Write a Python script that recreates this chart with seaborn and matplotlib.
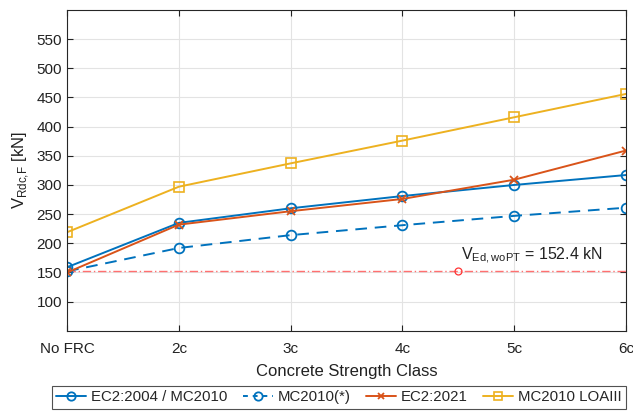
import numpy as np
import pandas as pd
import matplotlib
matplotlib.use("Agg")
import matplotlib.pyplot as plt
from matplotlib.lines import Line2D
import seaborn as sns

categories = ["No FRC", "2c", "3c", "4c", "5c", "6c"]
ec2_2004 = [159, 235, 260, 281, 300, 317]
mc2010_star = [152, 192, 214, 231, 247, 261]
ec2_2021 = [150, 232, 255, 276, 309, 359]
mc2010_loa3 = [219, 297, 337, 376, 416, 456]
v_ed = 152.4
series_names = ["EC2:2004 / MC2010", "MC2010(*)", "EC2:2021", "MC2010 LOAIII"]

sns.set_theme(style="whitegrid")
plt.rcParams['font.family'] = ['Liberation Sans', 'DejaVu Sans']
plt.rcParams['mathtext.fontset'] = 'custom'
plt.rcParams['mathtext.rm'] = 'Liberation Sans'

fig = plt.figure(figsize=(6.33, 4.12), dpi=100)
ax = fig.add_axes([0.106, 0.197, 0.883, 0.779])

x = np.arange(len(categories))
styles = [
    dict(color="#0072BD", marker="o", ls="-", mfc="none", ms=7, mew=1.3),
    dict(color="#0072BD", marker="o", ls=(0, (6, 4)), mfc="none", ms=7, mew=1.3),
    dict(color="#D95319", marker="x", ls="-", mfc="#D95319", ms=6, mew=1.3),
    dict(color="#EDB120", marker="s", ls="-", mfc="none", ms=6.5, mew=1.2),
]
handles = []
for name, vals, st in zip(series_names, [ec2_2004, mc2010_star, ec2_2021, mc2010_loa3], styles):
    df = pd.DataFrame({"x": x, "y": vals})
    sns.lineplot(data=df, x="x", y="y", ax=ax, color=st["color"],
                 linestyle=st["ls"], marker=st["marker"], markersize=st["ms"],
                 markerfacecolor=st["mfc"], markeredgecolor=st["color"],
                 markeredgewidth=st["mew"], linewidth=1.4, legend=False)
    handles.append(Line2D([], [], color=st["color"], linestyle=st["ls"] if st["ls"] == "-" else (0, (2.5, 2.5)),
                          marker=st["marker"], markersize=st["ms"] - 1,
                          markerfacecolor=st["mfc"], markeredgecolor=st["color"],
                          markeredgewidth=st["mew"], linewidth=1.4, label=name))

ax.axhline(v_ed, color="#FF7070", ls=(0, (6, 2, 1, 2)), lw=1.0, zorder=1)
ax.plot([3.5], [v_ed], marker="o", ms=5, mfc="none", mec="#FF3333", mew=0.9, ls="none")
ax.text(3.52, 161, r"V$_{\mathrm{Ed,woPT}}$ = 152.4 kN", fontsize=11.5, color="#222222",
        ha="left", va="bottom")

ax.set_xlim(0, 5)
ax.set_ylim(50, 600)
ax.set_xticks(x)
ax.set_xticklabels(categories)
ax.set_yticks(np.arange(100, 551, 50))
ax.set_xlabel("Concrete Strength Class", fontsize=12, color="#222222", labelpad=6)
ax.set_ylabel(r"V$_{\mathrm{Rdc{,}F}}$ [kN]", fontsize=12, color="#222222")
ax.tick_params(axis="both", labelsize=11, colors="#222222", direction="in", length=4,
               top=True, right=True, bottom=True, left=True, width=0.8)
ax.tick_params(axis="x", pad=8)
ax.grid(True, color="#E3E3E3", lw=0.8)
for s in ax.spines.values():
    s.set_visible(True)
    s.set_color("#262626")
    s.set_linewidth(0.8)
ax.set_facecolor("white")

leg = ax.legend(handles=handles, loc="upper center", bbox_to_anchor=(0.486, -0.171), ncol=4, frameon=True,
                fontsize=10.8, handlelength=2.0, handletextpad=0.3, columnspacing=1.05,
                borderpad=0.3, borderaxespad=0, fancybox=False, edgecolor="#262626")
leg.get_frame().set_linewidth(0.8)

fig.savefig("out.png", dpi=100)
